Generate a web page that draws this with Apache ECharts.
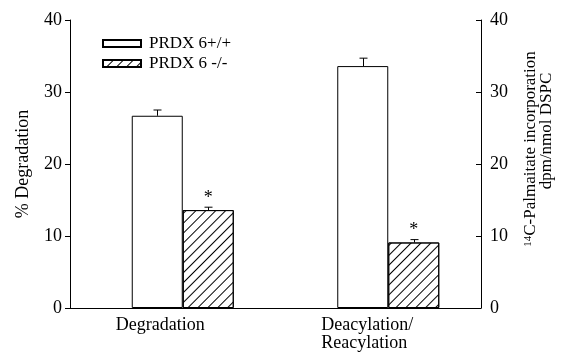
<!DOCTYPE html>
<html><head><meta charset="utf-8">
<script src="https://cdn.jsdelivr.net/npm/echarts@6/dist/echarts.min.js"></script>
<style>html,body{margin:0;padding:0;background:#fff}#c{width:567px;height:354px}</style>
</head><body><div id="c"></div>
<script>
// ---- data ----
const categories = ['Degradation', 'Deacylation/\nReacylation'];
const seriesNames = ['PRDX 6+/+', 'PRDX 6 -/-'];
const wildType = [26.7, 33.6];
const knockout = [13.6, 9.1];
const wildTypeErr = [0.8, 1.1];
const knockoutErr = [0.4, 0.4];
const knockoutMarks = ['*', '*'];
const yTicks = [0, 10, 20, 30, 40];
const leftAxisName = '% Degradation';
const rightAxisName = ['{sup|14}{n|C-Palmaitate incorporation}', '{n2|dpm/nmol DSPC}'];

// ---- styles ----
const FONT = 'Liberation Serif';
const FS = 18;
const BAR_W = 51;
const CAP = 8;

const chart = echarts.init(document.getElementById('c'), null, {renderer: 'canvas'});

const errData = [];
wildType.forEach((v, i) => errData.push([i, v, wildTypeErr[i], 0]));
knockout.forEach((v, i) => errData.push([i, v, knockoutErr[i], 1]));

const axisText = {color: '#000', fontFamily: FONT, fontSize: FS};

chart.setOption({
  animation: false,
  backgroundColor: '#fff',
  textStyle: {fontFamily: FONT, color: '#000'},
  legend: {
    orient: 'vertical', left: 97, top: 30,
    itemWidth: 38, itemHeight: 7, itemGap: 3,
    icon: 'rect',
    data: seriesNames,
    textStyle: {color: '#000', fontFamily: FONT, fontSize: 17, padding: [0, 0, 0, 3]}
  },
  grid: [
    {left: 70, right: 86, top: 20, bottom: 46},
    {left: 80, right: 76, top: 20, bottom: 46}
  ],
  xAxis: [
    {
      type: 'category', gridIndex: 0, data: categories,
      axisLine: {lineStyle: {color: '#000', width: 1}},
      axisTick: {show: false},
      axisLabel: {
        interval: 0, margin: 8, align: 'center',
        formatter: v => v.split('\n').map(s => '{a|' + s + '}').join('\n'),
        rich: {a: {width: 114, align: 'left', color: '#000', fontFamily: FONT, fontSize: FS, lineHeight: 18}}
      }
    },
    {type: 'category', gridIndex: 1, data: categories, show: false}
  ],
  yAxis: [
    {
      type: 'value', gridIndex: 0, position: 'left', min: 0, max: 40, interval: 10,
      name: leftAxisName, nameLocation: 'middle', nameGap: 38, nameRotate: 90,
      nameTextStyle: axisText,
      axisLine: {show: true, lineStyle: {color: '#000', width: 1}},
      axisTick: {show: true, length: 5, lineStyle: {color: '#000'}},
      axisLabel: Object.assign({margin: 8, formatter: v => yTicks.includes(v) ? String(v) : ''}, axisText),
      splitLine: {show: false}
    },
    {
      type: 'value', gridIndex: 0, position: 'right', min: 0, max: 40, interval: 10,
      name: rightAxisName.join('\n'), nameLocation: 'middle', nameGap: 42, nameRotate: 90,
      nameTextStyle: Object.assign({lineHeight: 16, padding: [0, 0, 0, 30], rich: {
        sup: {fontFamily: FONT, fontSize: 11, color: '#000', verticalAlign: 'top', lineHeight: 16},
        n: {fontFamily: FONT, fontSize: 17, color: '#000', lineHeight: 16},
        n2: {fontFamily: FONT, fontSize: 17, color: '#000', lineHeight: 16, padding: [0, 0, 0, 36]}
      }}, axisText),
      axisLine: {show: true, lineStyle: {color: '#000', width: 1}},
      axisTick: {show: true, inside: true, length: 5, lineStyle: {color: '#000'}},
      axisLabel: Object.assign({margin: 9, formatter: v => yTicks.includes(v) ? String(v) : ''}, axisText),
      splitLine: {show: false}
    },
    {type: 'value', gridIndex: 1, min: 0, max: 40, show: false}
  ],
  series: [
    {
      name: seriesNames[0], type: 'bar', xAxisIndex: 1, yAxisIndex: 2,
      data: wildType, barWidth: BAR_W, barGap: '0%',
      itemStyle: {color: '#fff', borderColor: '#000', borderWidth: 1}
    },
    {
      name: seriesNames[1], type: 'bar', xAxisIndex: 1, yAxisIndex: 2,
      data: knockout, barWidth: BAR_W, barGap: '0%',
      itemStyle: {
        color: '#fff', borderColor: '#000', borderWidth: 1,
        decal: {symbol: 'rect', symbolSize: 1, color: '#000', dashArrayX: [1, 0], dashArrayY: [1, 5.5], rotation: -Math.PI / 4}
      },
      label: {
        show: true, position: 'top', distance: 3,
        formatter: p => knockoutMarks[p.dataIndex],
        color: '#000', fontFamily: FONT, fontSize: FS
      }
    },
    {
      name: 'err', type: 'custom', xAxisIndex: 1, yAxisIndex: 2, data: errData, z: 5,
      renderItem: (params, api) => {
        const ci = api.value(0), v = api.value(1), e = api.value(2), side = api.value(3);
        const base = api.coord([ci, v]);
        const top = api.coord([ci, v + e]);
        const x = Math.round(base[0] + (side === 0 ? -BAR_W / 2 : BAR_W / 2)) + 0.5;
        return {type: 'group', children: [
          {type: 'line', shape: {x1: x, y1: base[1], x2: x, y2: top[1]}, style: {stroke: '#000', lineWidth: 1}},
          {type: 'line', shape: {x1: x - CAP / 2, y1: top[1], x2: x + CAP / 2, y2: top[1]}, style: {stroke: '#000', lineWidth: 1}}
        ]};
      }
    }
  ]
});
</script></body></html>
